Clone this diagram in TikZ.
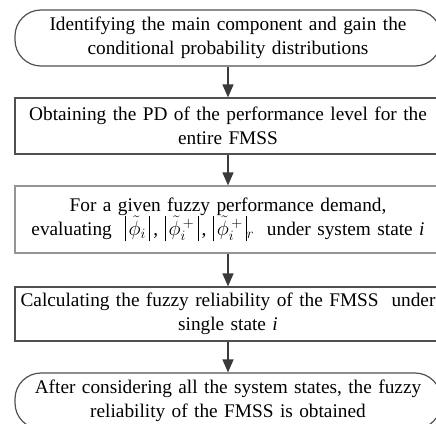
\documentclass[tikz,border=0pt]{standalone}
\usepackage{fontspec}
\setmainfont{Liberation Serif}
\usetikzlibrary{arrows.meta}
\definecolor{edge}{HTML}{505050}
\definecolor{lightedge}{HTML}{959595}
\definecolor{arrowc}{HTML}{3A3A3A}
\newcommand{\absbar}{\rule[-6pt]{0.8pt}{25pt}}
\begin{document}
\begin{tikzpicture}[x=1pt,y=1pt,
  txt/.style={font=\fontsize{19.3}{24}\selectfont, align=center, text width=420pt, inner sep=0pt, minimum width=426pt},
  terminal/.style={txt, draw=edge, line width=1.2pt, rounded corners=26pt},
  procbox/.style={txt, draw=edge, line width=1.2pt},
  arr/.style={draw=arrowc, line width=1.4pt, -{Triangle[length=13pt,width=11pt]}}]
\useasboundingbox (0,0) rectangle (436,-423);
\clip (0,0) rectangle (436,-423);
\node[terminal, minimum height=56pt] (t1) at (228,-38) {Identifying the main component and gain the\\conditional probability distributions};
\node[procbox, minimum height=56pt] (b2) at (228,-126) {Obtaining the PD of the performance level for the\\entire FMSS};
\node[procbox, draw=lightedge, minimum height=67pt] (b3) at (228,-219.5) {For a given fuzzy performance demand,\\evaluating\ \ \absbar\,$\tilde{\phi}_i$\,\absbar\,, \absbar\,$\tilde{\phi}_i^{\,+}$\,\absbar\,, \absbar\,$\tilde{\phi}_i^{\,+}$\,\absbar$_r$\ \ under system state \textit{i}};
\node[procbox, minimum height=54pt] (b4) at (228,-314) {Calculating the fuzzy reliability of the FMSS\ \ under\\single state \textit{i}};
\draw[edge, line width=1.6pt] (b4.north west) -- (b4.south west);
\node[terminal, minimum height=56pt] (t5) at (228,-401) {After considering all the system states, the fuzzy\\reliability of the FMSS is obtained};
\draw[arr] (t1.south) -- (b2.north);
\draw[arr] (b2.south) -- (b3.north);
\draw[arr] (b3.south) -- (b4.north);
\draw[arr] (b4.south) -- (t5.north);
\end{tikzpicture}
\end{document}
